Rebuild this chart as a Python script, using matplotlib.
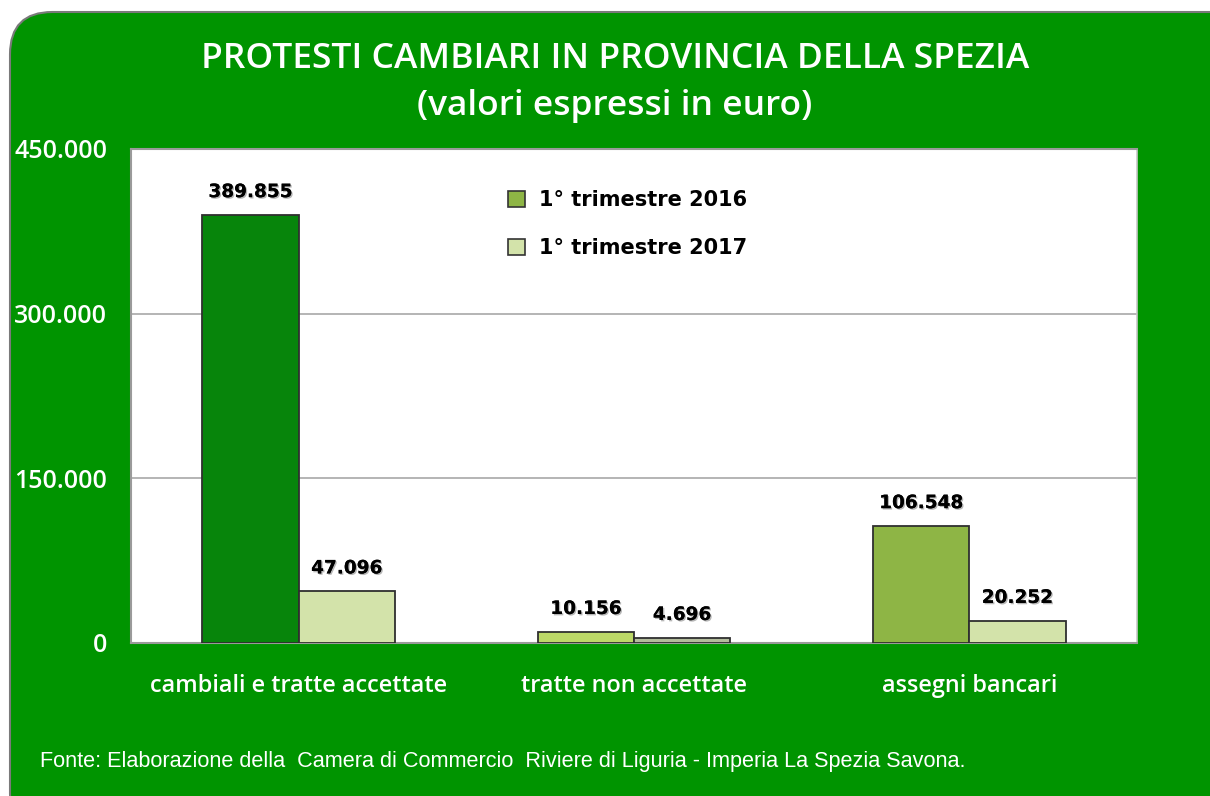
import matplotlib
matplotlib.use("Agg")
import matplotlib.pyplot as plt
from matplotlib.patches import FancyBboxPatch, Patch
import matplotlib.patheffects as pe
import numpy as np

# Data
categories = ["cambiali e tratte accettate", "tratte non accettate", "assegni bancari"]
series_names = ["1° trimestre 2016", "1° trimestre 2017"]
values_2016 = [389855, 10156, 106548]
values_2017 = [47096, 4696, 20252]
value_labels_2016 = ["389.855", "10.156", "106.548"]
value_labels_2017 = ["47.096", "4.696", "20.252"]
yticks = [0, 150000, 300000, 450000]
ytick_labels = ["0", "150.000", "300.000", "450.000"]

title_line1 = "PROTESTI CAMBIARI IN PROVINCIA DELLA SPEZIA"
title_line2 = "(valori espressi in euro)"
footer = "Fonte: Elaborazione della  Camera di Commercio  Riviere di Liguria - Imperia La Spezia Savona."

# Colours
panel_green = "#009400"
colors_2016 = ["#07850b", "#bcd867", "#8eb545"]
colors_2017 = ["#d3e3aa", "#b3bc9c", "#d3e3aa"]
legend_colors = ["#8eb545", "#d3e3aa"]

W, H = 1210, 796
fig = plt.figure(figsize=(W / 100, H / 100), dpi=100)
fig.patch.set_facecolor("white")

# Rounded green panel behind everything
panel = FancyBboxPatch((10 / W, -0.05), 1.2, (H - 12) / H + 0.05,
                       boxstyle="round,pad=0,rounding_size=0.035",
                       transform=fig.transFigure, facecolor=panel_green,
                       edgecolor="#7a7a7a", linewidth=1.5, zorder=0,
                       mutation_aspect=W / H)
fig.patches.append(panel)

left, right, top, bottom = 131, 1137, 149, 643
ax = fig.add_axes([left / W, 1 - bottom / H, (right - left) / W, (bottom - top) / H])
ax.set_facecolor("white")
ax.set_zorder(1)

x = np.arange(len(categories))
w = 0.287
ax.bar(x - w / 2, values_2016, width=w, color=colors_2016, edgecolor="#2f2f2f",
       linewidth=1.3, zorder=3)
ax.bar(x + w / 2, values_2017, width=w, color=colors_2017, edgecolor="#2f2f2f",
       linewidth=1.3, zorder=3)

shadow = [pe.withSimplePatchShadow(offset=(1, -1), shadow_rgbFace="#888888", alpha=0.6),
          pe.Normal()]
label_font = dict(family="DejaVu Sans", fontweight="bold", fontsize=13.3, color="black")
for xi, v, s in zip(x - w / 2, values_2016, value_labels_2016):
    ax.annotate(s, (xi, v), xytext=(0, 10), textcoords="offset points",
                ha="center", va="bottom", path_effects=shadow, **label_font)
for xi, v, s in zip(x + w / 2, values_2017, value_labels_2017):
    ax.annotate(s, (xi, v), xytext=(0, 10), textcoords="offset points",
                ha="center", va="bottom", path_effects=shadow, **label_font)

ax.set_xlim(-0.5, 2.5)
ax.set_ylim(0, 450000)
ax.set_yticks(yticks)
ax.set_yticklabels(ytick_labels)
for yv in yticks[1:3]:
    ax.axhline(yv, color="#a8a8a8", linewidth=1.2, zorder=1)

ax.set_xticks(x)
ax.set_xticklabels(categories)
ax.tick_params(axis="both", length=0, colors="white")
ax.tick_params(axis="y", pad=17)
ax.tick_params(axis="x", pad=22)
for lab in ax.get_yticklabels():
    lab.set_fontfamily("Open Sans")
    lab.set_fontweight("semibold")
    lab.set_fontsize(18)
    lab.set_color("white")
for lab in ax.get_xticklabels():
    lab.set_fontfamily("Open Sans")
    lab.set_fontweight("semibold")
    lab.set_fontsize(16.9)
    lab.set_color("white")

for side in ["left", "top", "bottom"]:
    ax.spines[side].set_color("#9a9a9a")
    ax.spines[side].set_linewidth(1.5)
ax.spines["right"].set_color("#c8c8c8")
ax.spines["right"].set_linewidth(1.2)

handles = [Patch(facecolor=c, edgecolor="#333333", linewidth=1.2) for c in legend_colors]
leg = ax.legend(handles, series_names, loc="upper left", bbox_to_anchor=(0.356, 0.955),
                frameon=False, handlelength=0.8, handleheight=0.8, handletextpad=0.7,
                labelspacing=1.35, prop=dict(family="DejaVu Sans", weight="bold", size=15))

fig.text(615 / W, 1 - 59 / H, title_line1, ha="center", va="center", color="white",
         fontfamily="Open Sans", fontweight="semibold", fontsize=25.5)
fig.text(615 / W, 1 - 106 / H, title_line2, ha="center", va="center", color="white",
         fontfamily="Open Sans", fontweight="semibold", fontsize=25.5)
fig.text(40 / W, 1 - 761 / H, footer, ha="left", va="center", color="white",
         fontfamily="Liberation Sans", fontsize=15.6)

fig.savefig("out.png", dpi=100, facecolor="white")
